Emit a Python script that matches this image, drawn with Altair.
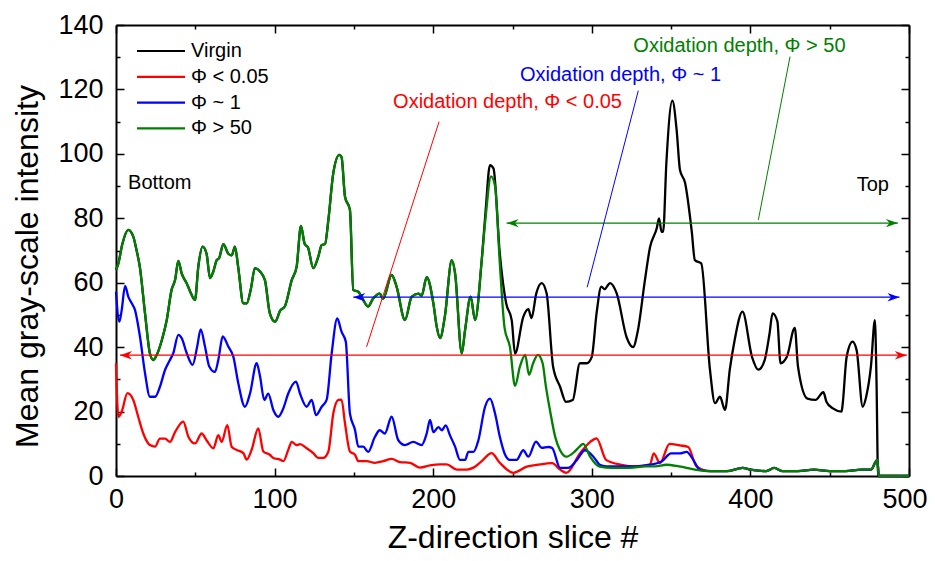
import altair as alt
import pandas as pd

FONT = "Liberation Sans"

# ---------------- data ----------------
# Virgin and Phi > 50 coincide up to slice ~231
shared_x = [0, 1.5, 4, 7.8, 10.9, 13, 15, 18.3, 21.4, 23.5, 25.6, 28.8, 32, 35, 37.3, 39.3, 41.4,
            44.6, 47, 49.8, 51.9, 54.6, 57.1, 59.3, 61.4, 63.5, 65, 67.7, 70.8, 73, 75, 77, 80.3,
            82.4, 85, 87.6, 90.8, 93.9, 97, 100.3, 103.5, 106.6, 110.8, 113.9, 116.6, 119, 121,
            124.4, 127.5, 129.7, 131.8, 133.9, 137, 140.8, 142.2, 144.4, 147.5, 149.6, 152.8,
            154.8, 159, 162, 166.3, 168.4, 173.8, 176.9, 182.2, 186.4, 190.6, 192.7, 195.9, 200.1,
            202.2, 204.3, 207.4, 211.7, 213.8, 218, 220.1, 223.6, 226.4, 230.6]
shared_y = [64, 66, 72, 76.4, 74.3, 70, 65, 50.5, 38, 36, 37.5, 42, 48.4, 57.7, 61, 66.8, 62.9,
            59.8, 57, 54.6, 65, 71.2, 69, 61.4, 63.5, 67, 67.6, 72, 69, 68.5, 71.2, 65, 53.6,
            53.6, 58, 64.5, 63.5, 60.8, 50.5, 47.9, 51.3, 52.8, 60.8, 65, 77.6, 72, 71,
            64.5, 68, 71.7, 72, 79.5, 94, 99.7, 99, 86.7, 82.6, 57.7, 57.2,
            55.6, 52.6, 55, 56.6, 55, 62.4, 58.8, 48.4, 55.6, 56.6, 56, 61.7, 53.6,
            46.4, 42.8, 49.7, 67, 62.9, 38.1, 45.3, 55.7, 48.4, 67]

virgin_tail_x = [233, 235.8, 238, 242, 246, 249.5, 251.6, 256.8, 260, 262, 265, 268.4, 271.5, 275.6,
                 280, 283.7, 288, 292.5, 296.8, 300, 303, 306, 308, 311.5, 315.7, 322, 326, 329,
                 333.5, 336.7, 341, 342.4, 344, 345, 347, 350.8, 353.5, 355.6, 358.8, 363, 365, 369,
                 374.5, 377.7, 380.8, 384, 387, 390, 395, 401, 405, 409, 412, 414, 417, 419, 423,
                 428, 430, 436, 441, 446, 448, 452, 457.5, 458, 460.7, 464.4, 467, 470.8, 473, 476,
                 478.5, 479.5, 480.5, 500]
virgin_tail_y = [82, 96.5, 95.5, 69, 53.6, 48.4, 38, 49.4, 51.8, 49, 56.7, 59.9, 56.7, 33.9,
                 27.7, 23, 23.6, 35, 35, 37, 50.5, 58.8, 58, 59.9, 56.7, 43, 40, 45,
                 60.8, 71, 77, 80, 75.8, 75.8, 97, 116.5, 107.4, 95, 91, 76, 67, 66,
                 33, 22.6, 24.6, 20.5, 33, 42, 51, 37, 33, 36, 44, 50.5, 48, 35, 37,
                 46, 34, 24, 23.6, 26, 23, 21, 20, 21.5, 37, 41.7, 39, 21.5, 24.6, 34,
                 48.4, 30, 0, 0]

green_tail_x = [233, 236.5, 239, 242, 245, 248.4, 251.6, 254.7, 258, 260.4, 263, 266, 269, 271,
                273.6, 277, 280, 284, 289, 292, 294.6, 298.9, 305, 313, 324, 334, 340, 347, 355,
                365, 375, 385, 395, 400, 410, 415, 420, 430, 440, 450, 460, 470, 476, 480, 481, 500]
green_tail_y = [80, 93, 90, 66, 46, 40, 28, 34, 37.6, 31.4, 35, 37.6, 35, 28,
                20.5, 12, 8, 6, 7.5, 9, 10, 6, 2.9, 2.5, 2.5, 3, 3, 3.5, 3,
                2, 1.5, 1.5, 2.5, 2, 1.5, 2.5, 1.5, 1.5, 2, 1.5, 1.5, 2, 2, 5, 0, 0]

blue_x = [0, 2.1, 3.6, 5.7, 7.8, 9.9, 12, 15.1, 18.3, 21.4, 24.6, 27.7, 30.9, 34, 36.1, 39.3, 41.4,
          44.6, 48.3, 51.2, 53.4, 56.1, 58.8, 62.4, 64.5, 67.3, 70.8, 74, 77.1, 81.3, 84.5, 88.7,
          90.8, 93.5, 96, 99.2, 102.3, 105.5, 108.6, 113.5, 116, 120.2, 123.4, 126.1, 129.7, 132.8,
          136, 139.5, 142.2, 144.9, 147.5, 150.7, 152.8, 155.9, 159, 163.2, 166.3, 169.5, 173.8,
          178, 182.2, 187.4, 192.7, 195.9, 198, 200.1, 203.3, 205.4, 207.9, 210.6, 213.8, 216.9,
          220.1, 222.2, 225.4, 228.5, 232.7, 235.8, 239, 242.1, 245, 248.4, 252.6, 256.8, 260,
          264.8, 268.5, 272.6, 275, 280, 285, 290.6, 295.7, 301, 305, 309, 318, 328, 336.7, 344,
          350, 355.6, 359.8, 364, 368, 375, 385, 395, 400, 410, 415, 420, 430, 440, 450, 460, 470,
          476, 480, 481, 500]
blue_y = [57.2, 47.9, 51.5, 59, 55.6, 53.6, 51.5, 43.3, 31.9, 24.6, 24.6, 27.7, 32.9, 36, 38.1, 43.8, 42.8,
          38.1, 34.5, 40.2, 45.5, 40.2, 34, 32.3, 36, 43.3, 40.2, 37, 28.8, 21.5, 25.6, 35,
          31, 23.6, 25.6, 20.5, 18.4, 21, 25.6, 29.3, 25.6, 21.5, 23.6, 18.9, 21.5, 23.6,
          38.1, 48.9, 44.8, 41.7, 19.4, 14.3, 9.1, 9.1, 7.5, 12.1, 14.2, 13.2, 18.4,
          11.1, 9.6, 10.6, 9.6, 13.2, 17.4, 13.6, 15.2, 14.2, 15.7, 12.6, 9.1, 5,
          5, 7.5, 7.5, 11.1, 21.5, 24, 19.4, 12, 7, 5, 5, 8, 6,
          10.7, 8.7, 9, 8.7, 2.5, 2.5, 5, 8, 6, 3.5, 3, 3, 3, 3.5, 4.5,
          7, 7, 7.5, 5, 2, 1.5, 1.5, 2.5, 2, 1.5, 2.5, 1.5, 1.5, 2, 1.5, 1.5, 2,
          2, 5, 0, 0]

red_x = [0, 1.5, 3.6, 7.2, 10.9, 14, 17.2, 21.4, 24.6, 27.7, 30.9, 34, 37.3, 42.4, 45.6, 49.8, 54,
         57.1, 61.4, 64.5, 66.6, 70.2, 72.9, 76.1, 80.3, 82.4, 85.5, 89.7, 92.9, 97, 99.2, 103.4,
         105.5, 108.6, 110.8, 113.9, 116, 120.2, 124.4, 127.5, 130.7, 133.9, 137, 140.2, 142.2,
         144.4, 147.5, 150.7, 152.8, 158, 163.2, 168.5, 173.8, 179, 185.4, 191.7, 198, 204.3,
         208.5, 214.9, 221.2, 225.4, 230.6, 236.8, 242, 250.6, 259, 266, 275, 280, 284, 292.5,
         299, 303, 309, 318, 326, 336.7, 339, 343, 349, 355.6, 360.8, 366, 375, 385, 395, 400,
         410, 415, 420, 430, 440, 450, 460, 470, 476, 480, 481, 500]
red_y = [35, 18.4, 20, 25.7, 23.6, 18.4, 13.2, 9.6, 9.1, 11.6, 11.6, 10.6, 13.7, 16.9, 12.2, 10.1, 13.2,
         11.1, 8.6, 12.7, 10.6, 15.8, 9.1, 8.1, 7.1, 5.1, 8.1, 14.8, 7.6, 6.6, 5.6, 5.1,
         4.6, 8.1, 10.6, 9.6, 9.9, 8.6, 7.1, 5.6, 5.6, 7.6, 19.4, 23.6, 23.7,
         16.3, 7.6, 6.6, 4.6, 4.6, 4.1, 4.6, 5.3, 4.3, 4.1, 2.6, 3.3, 3.6,
         3.6, 2, 2, 2.6, 4.6, 7.1, 4.1, 1, 2.9, 3.5, 4, 2, 1, 7,
         10.6, 11.7, 5, 3.5, 3, 3.5, 7, 4, 10, 9.5, 9, 3, 1.5, 1.5, 2.5, 2,
         1.5, 2.5, 1.5, 1.5, 2, 1.5, 1.5, 2, 2, 5, 0, 0]

series_names = ["Virgin", "Φ < 0.05", "Φ ~ 1", "Φ > 50"]
series_colors = ["#000000", "#ff0000", "#0000ff", "#008000"]

arrow_y = [37.5, 55.5, 78.5]
arrow_x_left = [2.5, 149.6, 246.3]
arrow_x_right = [498.6, 494, 493]
arrow_colors = ["#ff0000", "#0000ff", "#008000"]

label_texts = ["Oxidation depth, Φ < 0.05", "Oxidation depth, Φ ~ 1", "Oxidation depth, Φ > 50"]
label_x = [174.7, 254.7, 326.2]
label_y = [116.2, 124.5, 133.5]
leader_x1 = [203.7, 329.3, 425]
leader_y1 = [110, 119.6, 130.2]
leader_x2 = [158, 297.1, 405]
leader_y2 = [40.1, 58.6, 79.5]

side_texts = ["Bottom", "Top"]
side_x = [7.6, 467]
side_y = [91, 90.3]

x_ticks = list(range(0, 501, 50))
y_ticks = list(range(0, 141, 10))

# ---------------- chart ----------------
xscale = alt.Scale(domain=[0, 500], nice=False, zero=False)
yscale = alt.Scale(domain=[0, 140], nice=False, zero=False)

common_axis = dict(grid=False, domainColor="black", domainWidth=2, tickColor="black",
                   tickWidth=1.5, labelFont=FONT, labelColor="black", labelFontSize=27,
                   titleFont=FONT, titleColor="black", titleFontSize=32,
                   titleFontWeight="normal", labelOverlap=False, labelFlush=False)

xaxis = alt.Axis(values=x_ticks, orient="bottom",
                 labelExpr="datum.value % 100 === 0 ? datum.label : ''",
                 tickSize=alt.ExprRef(expr="datum.value % 100 === 0 ? -8 : -4"),
                 labelOffset=alt.ExprRef(expr="datum.value === 500 ? -4.5 : 0"),
                 labelPadding=18, title="Z-direction slice #",
                 titleX=396.5, titleY=71, titleBaseline="alphabetic", **common_axis)
yaxis = alt.Axis(values=y_ticks, orient="left",
                 labelExpr="datum.value % 20 === 0 ? datum.label : ''",
                 tickSize=alt.ExprRef(expr="datum.value % 20 === 0 ? -8 : -4"),
                 labelPadding=21, title="Mean gray-scale intensity",
                 titleX=-72, titleY=241, titleBaseline="bottom", **common_axis)
xaxis_top = alt.Axis(values=x_ticks, orient="top", labels=False, title=None,
                     tickSize=alt.ExprRef(expr="datum.value % 100 === 0 ? -8 : -4"),
                     **common_axis)
yaxis_right = alt.Axis(values=y_ticks, orient="right", labels=False, title=None,
                       tickSize=alt.ExprRef(expr="datum.value % 20 === 0 ? -8 : -4"),
                       **common_axis)

X = lambda f="x": alt.X(f"{f}:Q", scale=xscale, axis=xaxis)
Y = lambda f="y": alt.Y(f"{f}:Q", scale=yscale, axis=yaxis)

legend = alt.Legend(title=None, orient="none", legendX=35, legendY=16,
                    symbolType="M-3,0L3,0", symbolSize=256, symbolStrokeWidth=2.2,
                    labelFont=FONT, labelFontSize=20, labelColor="black",
                    labelOffset=20, rowPadding=5.8, padding=0)
color_scale = alt.Scale(domain=series_names, range=series_colors)


def line_layer(name, xs, ys):
    df = pd.DataFrame({"x": xs, "y": ys, "series": name})
    return alt.Chart(df).mark_line(strokeWidth=2.3, interpolate="monotone").encode(
        x=X(), y=Y(),
        color=alt.Color("series:N", scale=color_scale, legend=legend),
    )


lines = [
    line_layer(series_names[0], shared_x + virgin_tail_x, shared_y + virgin_tail_y),
    line_layer(series_names[1], red_x, red_y),
    line_layer(series_names[2], blue_x, blue_y),
    line_layer(series_names[3], shared_x + green_tail_x, shared_y + green_tail_y),
]

arrows_df = pd.DataFrame({"y": arrow_y, "xl": arrow_x_left, "xr": arrow_x_right, "c": arrow_colors})
arrow_rules = alt.Chart(arrows_df).mark_rule(strokeWidth=1.3).encode(
    x=X("xl"), x2="xr", y=Y(), stroke=alt.Color("c:N", scale=None))
head_r = alt.Chart(arrows_df).mark_point(shape="M0,0L-2,-0.7L-1.4,0L-2,0.7Z", filled=True,
                                         size=144, opacity=1, strokeWidth=0).encode(
    x=X("xr"), y=Y(), fill=alt.Color("c:N", scale=None))
head_l = alt.Chart(arrows_df).mark_point(shape="M0,0L2,-0.7L1.4,0L2,0.7Z", filled=True,
                                         size=144, opacity=1, strokeWidth=0).encode(
    x=X("xl"), y=Y(), fill=alt.Color("c:N", scale=None))

leaders_df = pd.DataFrame({"x1": leader_x1, "y1": leader_y1, "x2": leader_x2, "y2": leader_y2,
                           "c": arrow_colors})
leaders = alt.Chart(leaders_df).mark_rule(strokeWidth=1).encode(
    x=X("x1"), y=Y("y1"), x2="x2", y2="y2", stroke=alt.Color("c:N", scale=None))

labels_df = pd.DataFrame({"x": label_x, "y": label_y, "t": label_texts, "c": arrow_colors})
labels = alt.Chart(labels_df).mark_text(align="left", baseline="middle", font=FONT,
                                         fontSize=20).encode(
    x=X(), y=Y(), text="t:N", fill=alt.Color("c:N", scale=None))

side_df = pd.DataFrame({"x": side_x, "y": side_y, "t": side_texts})
sides = alt.Chart(side_df).mark_text(align="left", baseline="middle", font=FONT,
                                      fontSize=20, color="black").encode(
    x=X(), y=Y(), text="t:N")

main = alt.layer(*lines, arrow_rules, head_l, head_r, leaders, labels, sides)

mirror = alt.Chart(pd.DataFrame({"x": [0], "y": [0]})).mark_point(opacity=0).encode(
    x=alt.X("x:Q", scale=xscale, axis=xaxis_top),
    y=alt.Y("y:Q", scale=yscale, axis=yaxis_right),
)

chart = alt.layer(main, mirror).resolve_scale(x="independent", y="independent").properties(
    width=793, height=451,
    autosize=alt.AutoSizeParams(type="none"),
    padding={"left": 108, "top": 17, "right": 18, "bottom": 77},
).configure_view(stroke=None).configure(background="white")

chart.save("out.html", embed_options={"renderer": "svg", "actions": False})
